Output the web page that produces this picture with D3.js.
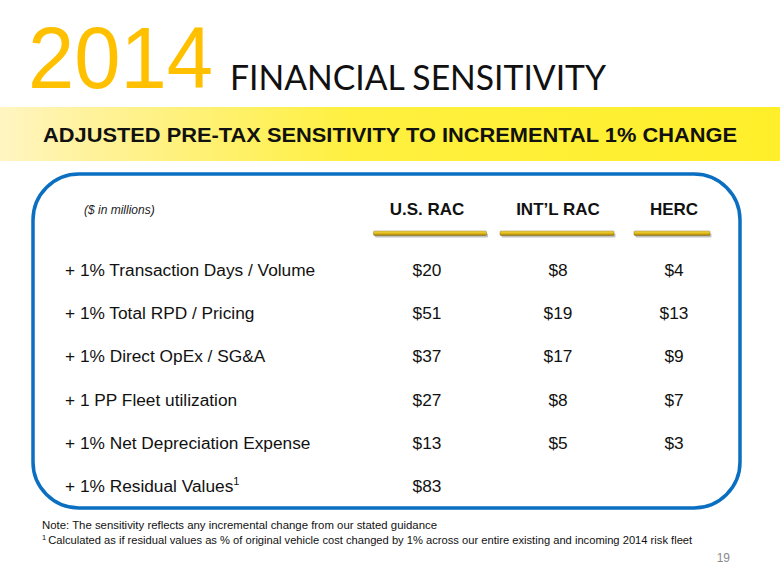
<!DOCTYPE html>
<html>
<head>
<meta charset="utf-8">
<script src="https://cdn.jsdelivr.net/npm/d3@7"></script>
<style>
  html, body { margin: 0; padding: 0; background: #fff; }
  svg { display: block; }
</style>
</head>
<body>
<svg id="chart" width="780" height="585"></svg>
<script>
// ---- data ----
const columns = ["U.S. RAC", "INT\u2019L RAC", "HERC"];
const rowLabels = [
  "+ 1% Transaction Days / Volume",
  "+ 1% Total RPD / Pricing",
  "+ 1% Direct OpEx / SG&A",
  "+ 1 PP Fleet utilization",
  "+ 1% Net Depreciation Expense",
  "+ 1% Residual Values"
];
const usRac   = [20, 51, 37, 27, 13, 83];
const intlRac = [8, 19, 17, 8, 5, null];
const herc    = [4, 13, 9, 7, 3, null];
const footnotes = [
  "Note: The sensitivity reflects any incremental change from our stated guidance",
  "Calculated as if residual values as % of original vehicle cost changed by 1% across our entire existing and incoming 2014 risk fleet"
];
const titleYear = "2014";
const titleText = "FINANCIAL SENSITIVITY";
const subtitle = "ADJUSTED PRE-TAX SENSITIVITY TO INCREMENTAL 1% CHANGE";
const unitNote = "($ in millions)";
const pageNum = "19";

// ---- drawing ----
const svg = d3.select("#chart");
const defs = svg.append("defs");

const bandGrad = defs.append("linearGradient").attr("id", "bandGrad")
  .attr("x1", "0").attr("x2", "1").attr("y1", "0").attr("y2", "0");
bandGrad.append("stop").attr("offset", "0").attr("stop-color", "#FFF5C2");
bandGrad.append("stop").attr("offset", "0.12").attr("stop-color", "#FFF29A");
bandGrad.append("stop").attr("offset", "0.45").attr("stop-color", "#FFF040");
bandGrad.append("stop").attr("offset", "1").attr("stop-color", "#FFEF2A");

const goldGrad = defs.append("linearGradient").attr("id", "goldGrad")
  .attr("x1", "0").attr("x2", "0").attr("y1", "0").attr("y2", "1");
goldGrad.append("stop").attr("offset", "0").attr("stop-color", "#F7DC5A");
goldGrad.append("stop").attr("offset", "0.5").attr("stop-color", "#E2BA18");
goldGrad.append("stop").attr("offset", "1").attr("stop-color", "#9C7A08");

// Title
svg.append("text")
  .attr("x", 28).attr("y", 88)
  .attr("font-family", "Liberation Sans, Arial, sans-serif")
  .attr("font-size", 87)
  .attr("fill", "#FFC000")
  .attr("textLength", 185).attr("lengthAdjust", "spacingAndGlyphs")
  .text(titleYear);

svg.append("text")
  .attr("x", 230).attr("y", 90)
  .attr("font-family", "Lato, 'Open Sans', sans-serif")
  .attr("font-size", 34)
  .attr("fill", "#111")
  .attr("textLength", 376).attr("lengthAdjust", "spacingAndGlyphs")
  .text(titleText);

// Yellow band
svg.append("rect")
  .attr("x", 0).attr("y", 107).attr("width", 780).attr("height", 54)
  .attr("fill", "url(#bandGrad)");

svg.append("text")
  .attr("x", 43).attr("y", 142)
  .attr("font-family", "Liberation Sans, Arial, sans-serif")
  .attr("font-weight", "bold")
  .attr("font-size", 20.5)
  .attr("fill", "#111")
  .attr("textLength", 694).attr("lengthAdjust", "spacingAndGlyphs")
  .text(subtitle);

// Rounded box
svg.append("rect")
  .attr("x", 33).attr("y", 174).attr("width", 707).attr("height", 334)
  .attr("rx", 46).attr("ry", 46)
  .attr("fill", "none")
  .attr("stroke", "#0B6FC1")
  .attr("stroke-width", 3.5);

// Scales
const x = d3.scaleOrdinal().domain(columns).range([427, 558, 674]);
const barW = d3.scaleOrdinal().domain(columns).range([113, 114, 76]);
const barX = d3.scaleOrdinal().domain(columns).range([430, 557, 672]);
const y = d3.scalePoint().domain(rowLabels).range([276, 492]);

// Unit note
svg.append("text")
  .attr("x", 84).attr("y", 214)
  .attr("font-family", "Liberation Sans, Arial, sans-serif")
  .attr("font-style", "italic")
  .attr("font-size", 12)
  .attr("fill", "#222")
  .text(unitNote);

// Column headers
svg.selectAll(".colhead").data(columns).enter().append("text")
  .attr("class", "colhead")
  .attr("x", d => x(d)).attr("y", 215)
  .attr("text-anchor", "middle")
  .attr("font-family", "Liberation Sans, Arial, sans-serif")
  .attr("font-weight", "bold")
  .attr("font-size", 17)
  .attr("fill", "#111")
  .text(d => d);

// Gold bars (shadow + bar)
svg.selectAll(".barShadow").data(columns).enter().append("rect")
  .attr("class", "barShadow")
  .attr("x", d => barX(d) - barW(d) / 2 + 1.5)
  .attr("y", 233.5)
  .attr("width", d => barW(d))
  .attr("height", 4)
  .attr("rx", 1)
  .attr("fill", "#9a9a9a")
  .attr("opacity", 0.6);
svg.selectAll(".goldBar").data(columns).enter().append("rect")
  .attr("class", "goldBar")
  .attr("x", d => barX(d) - barW(d) / 2)
  .attr("y", 231)
  .attr("width", d => barW(d))
  .attr("height", 4.5)
  .attr("rx", 1)
  .attr("fill", "url(#goldGrad)")
  .attr("stroke", "#7a6208")
  .attr("stroke-width", 0.4);

// Row labels
const labels = svg.selectAll(".rowlabel").data(rowLabels).enter().append("text")
  .attr("class", "rowlabel")
  .attr("x", 65).attr("y", d => y(d))
  .attr("font-family", "Liberation Sans, Arial, sans-serif")
  .attr("font-size", 17.3)
  .attr("fill", "#111")
  .text(d => d);
labels.filter((d, i) => i === rowLabels.length - 1)
  .append("tspan")
  .attr("font-size", 11)
  .attr("dy", -7)
  .text("1");

// Values
const series = [usRac, intlRac, herc];
series.forEach((vals, ci) => {
  svg.selectAll(".val" + ci)
    .data(vals.map((v, i) => ({v, row: rowLabels[i]})).filter(d => d.v !== null))
    .enter().append("text")
    .attr("class", "val" + ci)
    .attr("x", x(columns[ci])).attr("y", d => y(d.row))
    .attr("text-anchor", "middle")
    .attr("font-family", "Liberation Sans, Arial, sans-serif")
    .attr("font-size", 17.3)
    .attr("fill", "#111")
    .text(d => "$" + d.v);
});

// Footnotes
svg.append("text")
  .attr("x", 42).attr("y", 529)
  .attr("font-family", "Liberation Sans, Arial, sans-serif")
  .attr("font-size", 11.5)
  .attr("fill", "#111")
  .attr("textLength", 395).attr("lengthAdjust", "spacingAndGlyphs")
  .text(footnotes[0]);

const fn2 = svg.append("text")
  .attr("x", 42).attr("y", 544)
  .attr("font-family", "Liberation Sans, Arial, sans-serif")
  .attr("font-size", 11.5)
  .attr("fill", "#111");
fn2.append("tspan").attr("font-size", 7.5).attr("dy", -4).text("1");
fn2.append("tspan").attr("dy", 4).attr("dx", 2)
  .attr("textLength", 644).attr("lengthAdjust", "spacingAndGlyphs")
  .text(footnotes[1]);

// Page number
svg.append("text")
  .attr("x", 730).attr("y", 562)
  .attr("text-anchor", "end")
  .attr("font-family", "Liberation Sans, Arial, sans-serif")
  .attr("font-size", 12)
  .attr("fill", "#8a8a8a")
  .text(pageNum);
</script>
</body>
</html>
